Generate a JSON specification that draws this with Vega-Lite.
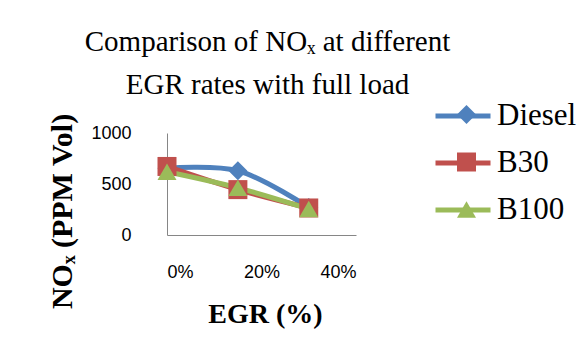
{
  "$schema": "https://vega.github.io/schema/vega-lite/v6.json",
  "width": 189,
  "height": 102,
  "autosize": {"type": "none"},
  "padding": {"left": 167, "top": 133, "right": 225, "bottom": 125},
  "background": "white",
  "title": {
    "text": ["Comparison of NOₓ  at different", "EGR rates with full load"],
    "font": "Liberation Serif",
    "fontSize": 29,
    "fontWeight": "normal",
    "lineHeight": 43,
    "color": "black",
    "anchor": "middle",
    "frame": "group",
    "dx": 6,
    "dy": 47,
    "offset": 33
  },
  "data": {
    "values": [
      {"fuel": "Diesel", "egr": 0, "nox": 655},
      {"fuel": "Diesel", "egr": 0.15, "nox": 630},
      {"fuel": "Diesel", "egr": 0.3, "nox": 270},
      {"fuel": "B30", "egr": 0, "nox": 672},
      {"fuel": "B30", "egr": 0.15, "nox": 445},
      {"fuel": "B30", "egr": 0.3, "nox": 265},
      {"fuel": "B100", "egr": 0, "nox": 620},
      {"fuel": "B100", "egr": 0.15, "nox": 462},
      {"fuel": "B100", "egr": 0.3, "nox": 255}
    ]
  },
  "encoding": {
    "x": {
      "field": "egr",
      "type": "quantitative",
      "scale": {"domain": [0, 0.4]},
      "axis": {
        "values": [0, 0.2, 0.4],
        "format": ".0%",
        "title": "EGR (%)",
        "titleFont": "Liberation Serif",
        "titleFontSize": 28,
        "titleFontWeight": "bold",
        "titleColor": "black",
        "titleX": 98,
        "titleY": 87,
        "titleBaseline": "alphabetic",
        "titleAnchor": null,
        "labelPadding": 28
      }
    },
    "y": {
      "field": "nox",
      "type": "quantitative",
      "scale": {"domain": [0, 1000]},
      "axis": {
        "values": [0, 500, 1000],
        "format": "d",
        "title": "NOₓ (PPM Vol)",
        "titleFont": "Liberation Serif",
        "titleFontSize": 30,
        "titleFontWeight": "bold",
        "titleColor": "black",
        "titleAngle": -90,
        "titleX": -105,
        "titleY": 78,
        "titleAlign": "center",
        "titleBaseline": "middle",
        "labelPadding": 36
      }
    }
  },
  "layer": [
    {
      "mark": {"type": "line", "strokeWidth": 5, "interpolate": "catmull-rom"},
      "encoding": {
        "stroke": {
          "field": "fuel",
          "type": "nominal",
          "sort": ["Diesel", "B30", "B100"],
          "scale": {"range": ["#4F81BD", "#C0504D", "#9BBB59"]},
          "legend": {
            "orient": "none",
            "legendX": 266,
            "legendY": -47,
            "title": null,
            "symbolType": "stroke",
            "symbolSize": 3025,
            "symbolStrokeWidth": 5,
            "labelFont": "Liberation Serif",
            "labelFontSize": 31,
            "labelColor": "black",
            "labelOffset": 4,
            "rowPadding": 2,
            "padding": 0
          }
        }
      }
    },
    {
      "transform": [{"calculate": "datum.fuel", "as": "Fuel"}],
      "mark": {"type": "point", "filled": true, "opacity": 1},
      "encoding": {
        "fill": {
          "field": "Fuel",
          "type": "nominal",
          "scale": {"domain": ["Diesel", "B30", "B100"], "range": ["#4F81BD", "#C0504D", "#9BBB59"]},
          "legend": {
            "orient": "none",
            "legendX": 284,
            "legendY": -34,
            "title": null,
            "labelExpr": "''",
            "labelFontSize": 31,
            "labelOffset": 0,
            "rowPadding": 15.5,
            "padding": 0,
            "symbolStrokeWidth": 0,
            "symbolOpacity": 1
          }
        },
        "shape": {
          "field": "Fuel",
          "type": "nominal",
          "scale": {"domain": ["Diesel", "B30", "B100"], "range": ["diamond", "square", "triangle-up"]}
        },
        "size": {
          "field": "Fuel",
          "type": "nominal",
          "scale": {"domain": ["Diesel", "B30", "B100"], "range": [361, 361, 484]}
        }
      }
    }
  ],
  "config": {
    "view": {"stroke": null},
    "axis": {
      "grid": false,
      "ticks": false,
      "domainColor": "#868686",
      "domainWidth": 1,
      "labelFont": "Liberation Sans",
      "labelFontSize": 18,
      "labelColor": "black"
    }
  }
}
